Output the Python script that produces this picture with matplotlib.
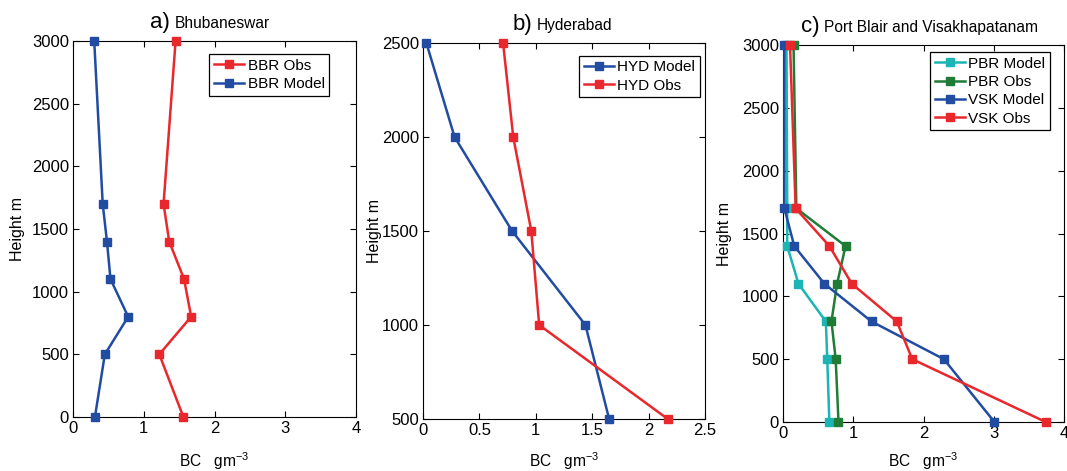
import numpy as np
import matplotlib
matplotlib.use("Agg")
import matplotlib.pyplot as plt

plt.rcParams['font.family'] = ['Liberation Sans', 'DejaVu Sans']
plt.rcParams['mathtext.fontset'] = 'custom'
plt.rcParams['mathtext.rm'] = 'Liberation Sans'
plt.rcParams['mathtext.it'] = 'Liberation Sans'

RED = "#e8282d"
BLUE = "#214ca2"
CYAN = "#1bb5b5"
GREEN = "#1f7c36"

# a) Bhubaneswar
bbr_height = [0, 500, 800, 1100, 1400, 1700, 3000]
bbr_obs = [1.56, 1.22, 1.67, 1.57, 1.36, 1.28, 1.45]
bbr_model = [0.31, 0.45, 0.78, 0.53, 0.48, 0.42, 0.30]

# b) Hyderabad
hyd_height = [500, 1000, 1500, 2000, 2500]
hyd_model = [1.65, 1.44, 0.79, 0.28, 0.03]
hyd_obs = [2.17, 1.03, 0.96, 0.80, 0.71]

# c) Port Blair and Visakhapatanam
pv_height = [0, 500, 800, 1100, 1400, 1700, 3000]
pbr_model = [0.66, 0.63, 0.61, 0.22, 0.06, 0.06, 0.05]
pbr_obs = [0.79, 0.75, 0.69, 0.77, 0.89, 0.19, 0.15]
vsk_model = [3.01, 2.29, 1.26, 0.59, 0.16, 0.02, 0.02]
vsk_obs = [3.74, 1.84, 1.62, 0.98, 0.66, 0.18, 0.10]

fig = plt.figure(figsize=(10.67, 4.71), dpi=100)
W, H = 1067, 471
XLABEL_TOP = 450  # pixel row where the x-axis labels start


def make_axes(left, top, right, bottom, ylabel_right):
    ax = fig.add_axes([left / W, 1 - bottom / H, (right - left) / W, (bottom - top) / H])
    ax.xaxis.set_label_coords(0.5, (bottom - XLABEL_TOP) / (bottom - top))
    ax.yaxis.set_label_coords((ylabel_right - left) / (right - left), 0.5)
    return ax


def plot_profile(ax, x, y, color, label):
    ax.plot(x, y, color=color, lw=1.8, marker="s", ms=5.5, mec=color,
            label=label, clip_on=False, zorder=3)


def style(ax, letter, name, split, legend_anchor):
    ax.tick_params(direction="in", top=True, right=True, length=4,
                   width=0.8, labelsize=12, pad=3)
    for s in ax.spines.values():
        s.set_linewidth(0.8)
    ax.set_ylabel("Height m", fontsize=11.5)
    ax.set_xlabel(r"BC   gm$^{-3}$", fontsize=11.2)
    ax.text(split - 0.005, 1.034, letter, transform=ax.transAxes,
            ha="right", va="baseline", fontsize=16)
    ax.text(split + 0.012, 1.034, name, transform=ax.transAxes,
            ha="left", va="baseline", fontsize=11.2)
    leg = ax.legend(loc="upper right", bbox_to_anchor=legend_anchor,
                    borderaxespad=0, fontsize=11, fancybox=False,
                    handlelength=2.0, handletextpad=0.2, labelspacing=0.28,
                    borderpad=0.3, framealpha=1)
    leg.get_frame().set_edgecolor("black")
    leg.get_frame().set_linewidth(0.9)


# panel a
ax1 = make_axes(73, 41, 356, 417, 25)
plot_profile(ax1, bbr_obs, bbr_height, RED, "BBR Obs")
plot_profile(ax1, bbr_model, bbr_height, BLUE, "BBR Model")
ax1.set_xlim(0, 4)
ax1.set_ylim(0, 3000)
ax1.set_xticks(np.arange(0, 5, 1))
ax1.set_yticks(np.arange(0, 3001, 500))
style(ax1, "a)", "Bhubaneswar", 0.349, (0.905, 0.965))

# panel b
ax2 = make_axes(423, 43, 705, 419, 382)
plot_profile(ax2, hyd_model, hyd_height, BLUE, "HYD Model")
plot_profile(ax2, hyd_obs, hyd_height, RED, "HYD Obs")
ax2.set_xlim(0, 2.5)
ax2.set_ylim(500, 2500)
ax2.set_xticks([0, 0.5, 1, 1.5, 2, 2.5])
ax2.set_xticklabels(["0", "0.5", "1", "1.5", "2", "2.5"])
ax2.set_yticks(np.arange(500, 2501, 500))
style(ax2, "b)", "Hyderabad", 0.393, (0.982, 0.966))

# panel c
ax3 = make_axes(783, 45, 1064, 422, 732)
plot_profile(ax3, pbr_model, pv_height, CYAN, "PBR Model")
plot_profile(ax3, pbr_obs, pv_height, GREEN, "PBR Obs")
plot_profile(ax3, vsk_model, pv_height, BLUE, "VSK Model")
plot_profile(ax3, vsk_obs, pv_height, RED, "VSK Obs")
ax3.set_xlim(0, 4)
ax3.set_ylim(0, 3000)
ax3.set_xticks(np.arange(0, 5, 1))
ax3.set_yticks(np.arange(0, 3001, 500))
style(ax3, "c)", "Port Blair and Visakhapatanam", 0.135, (0.950, 0.981))

fig.savefig("out.png", dpi=100)
